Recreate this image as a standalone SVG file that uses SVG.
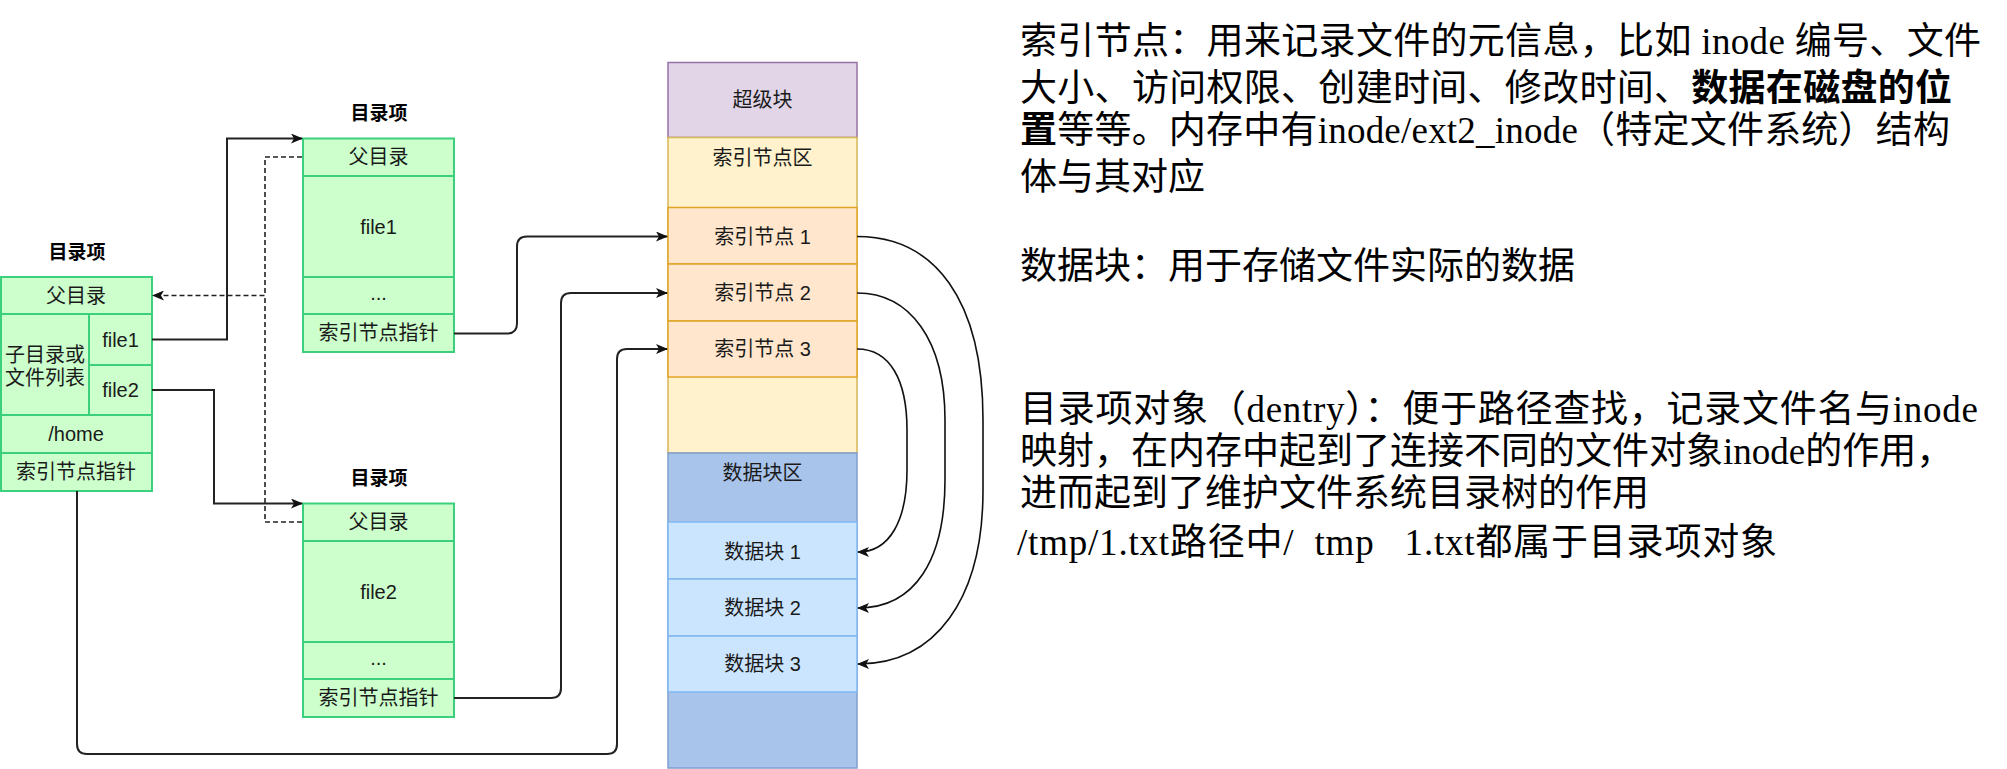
<svg xmlns="http://www.w3.org/2000/svg" width="2007" height="769" viewBox="0 0 2007 769">
<style>
.g{fill:#ccffcc;stroke:#3ad07e;stroke-width:2}
.t{font-family:"Liberation Sans","Noto Sans CJK SC",sans-serif;font-size:20px;fill:#1a1a1a;text-anchor:middle;dominant-baseline:central}
.h{font-family:"Liberation Sans","Noto Sans CJK SC",sans-serif;font-size:19px;font-weight:bold;fill:#000;text-anchor:middle;dominant-baseline:central}
.c{fill:none;stroke:#222;stroke-width:2}
.d{fill:none;stroke:#222;stroke-width:1.6;stroke-dasharray:5 3}
.cv{fill:none;stroke:#111;stroke-width:1.6}
.r{font-family:"Liberation Serif","Noto Sans CJK SC",serif;font-size:37px;fill:#000;white-space:pre}
.b{font-weight:bold}
</style>
<defs>
<marker id="arr" viewBox="0 0 12 10" refX="11" refY="5" markerWidth="12" markerHeight="10" markerUnits="userSpaceOnUse" orient="auto">
<path d="M0,0 L12,5 L0,10 L3,5 z" fill="#111"/>
</marker>
</defs>

<g id="dentry-root">
<text class="h" x="77" y="252">目录项</text>
<rect class="g" x="1" y="277" width="151" height="37"/>
<rect class="g" x="1" y="314" width="88" height="101"/>
<rect class="g" x="89" y="314" width="63" height="51"/>
<rect class="g" x="89" y="365" width="63" height="50"/>
<rect class="g" x="1" y="415" width="151" height="38"/>
<rect class="g" x="1" y="453" width="151" height="38"/>
<text class="t" x="76" y="295.5">父目录</text>
<text class="t" x="45" y="355">子目录或</text>
<text class="t" x="45" y="378">文件列表</text>
<text class="t" x="120.5" y="339.5">file1</text>
<text class="t" x="120.5" y="390">file2</text>
<text class="t" x="76" y="434">/home</text>
<text class="t" x="76" y="472">索引节点指针</text>
</g>

<g id="dentry-file1">
<text class="h" x="379" y="113.5">目录项</text>
<rect class="g" x="303" y="138.5" width="151" height="37.5"/>
<rect class="g" x="303" y="176" width="151" height="101"/>
<rect class="g" x="303" y="277" width="151" height="37"/>
<rect class="g" x="303" y="314" width="151" height="38"/>
<text class="t" x="378.5" y="157">父目录</text>
<text class="t" x="378.5" y="226.5">file1</text>
<text class="t" x="378.5" y="293">...</text>
<text class="t" x="378.5" y="333">索引节点指针</text>
</g>

<g id="dentry-file2">
<text class="h" x="379" y="478.5">目录项</text>
<rect class="g" x="303" y="503.5" width="151" height="37.5"/>
<rect class="g" x="303" y="541" width="151" height="101"/>
<rect class="g" x="303" y="642" width="151" height="37"/>
<rect class="g" x="303" y="679" width="151" height="38"/>
<text class="t" x="378.5" y="522">父目录</text>
<text class="t" x="378.5" y="591.5">file2</text>
<text class="t" x="378.5" y="658">...</text>
<text class="t" x="378.5" y="698">索引节点指针</text>
</g>

<g id="disk">
<g id="superblock">
<rect x="668" y="62.5" width="189" height="75" fill="#e1d5e7" stroke="#9673a6" stroke-width="1.5"/>
<text class="t" x="762.5" y="100">超级块</text>
</g>
<g id="inode-area">
<rect x="668" y="137.5" width="189" height="315.5" fill="#fff2cc" stroke="#d6b656" stroke-width="1.5"/>
<text class="t" x="762.5" y="158">索引节点区</text>
</g>
<g id="inode1">
<rect x="668" y="207.5" width="189" height="56.5" fill="#ffe6cc" stroke="#e0a526" stroke-width="1.5"/>
<text class="t" x="762.5" y="236.5">索引节点 1</text>
</g>
<g id="inode2">
<rect x="668" y="264" width="189" height="57" fill="#ffe6cc" stroke="#e0a526" stroke-width="1.5"/>
<text class="t" x="762.5" y="293">索引节点 2</text>
</g>
<g id="inode3">
<rect x="668" y="321" width="189" height="56" fill="#ffe6cc" stroke="#e0a526" stroke-width="1.5"/>
<text class="t" x="762.5" y="349">索引节点 3</text>
</g>
<g id="data-area">
<rect x="668" y="453" width="189" height="315" fill="#a9c4eb" stroke="#7f9fd0" stroke-width="1.5"/>
<text class="t" x="762.5" y="473">数据块区</text>
</g>
<g id="data1">
<rect x="668" y="522" width="189" height="57" fill="#cce5ff" stroke="#7fb8f0" stroke-width="1.5"/>
<text class="t" x="762.5" y="551.5">数据块 1</text>
</g>
<g id="data2">
<rect x="668" y="579" width="189" height="57" fill="#cce5ff" stroke="#7fb8f0" stroke-width="1.5"/>
<text class="t" x="762.5" y="608">数据块 2</text>
</g>
<g id="data3">
<rect x="668" y="636" width="189" height="56" fill="#cce5ff" stroke="#7fb8f0" stroke-width="1.5"/>
<text class="t" x="762.5" y="664">数据块 3</text>
</g>
</g>

<g id="connectors">
<path class="c" d="M152,339.5 H227 V138.5 H302" marker-end="url(#arr)"/>
<path class="c" d="M152,390 H214 V503.5 H302" marker-end="url(#arr)"/>
<path class="d" d="M302,157 H265 V295.5 H153" marker-end="url(#arr)"/>
<path class="d" d="M302,522 H265 V295.5"/>
<path class="c" d="M454,333.5 H507 Q517,333.5 517,323.5 V246.5 Q517,236.5 527,236.5 H667" marker-end="url(#arr)"/>
<path class="c" d="M454,698 H551 Q561,698 561,688 V303 Q561,293 571,293 H667" marker-end="url(#arr)"/>
<path class="c" d="M77,491 V744 Q77,754 87,754 H607 Q617,754 617,744 V359 Q617,349 627,349 H667" marker-end="url(#arr)"/>
<path class="cv" d="M857,236.5 C935,236.5 983,300 983,420 L983,490 C983,600 935,664 858,664" marker-end="url(#arr)"/>
<path class="cv" d="M857,293 C910,293 945,340 945,420 L945,480 C945,560 915,608 858,608" marker-end="url(#arr)"/>
<path class="cv" d="M857,349 C890,349 907,380 907,430 L907,470 C907,520 890,552 858,552" marker-end="url(#arr)"/>
</g>

<g id="notes">
<text class="r" x="1020" y="54" textLength="961" lengthAdjust="spacing">索引节点：用来记录文件的元信息，比如 inode 编号、文件</text>
<text class="r" x="1020" y="101" textLength="932" lengthAdjust="spacing">大小、访问权限、创建时间、修改时间、<tspan class="b">数据在磁盘的位</tspan></text>
<text class="r" x="1020" y="143" textLength="930" lengthAdjust="spacing"><tspan class="b">置</tspan>等等。内存中有inode/ext2_inode（特定文件系统）结构</text>
<text class="r" x="1020" y="190">体与其对应</text>
<text class="r" x="1020" y="279">数据块：用于存储文件实际的数据</text>
<text class="r" x="1020" y="422" textLength="958" lengthAdjust="spacing">目录项对象（dentry）：便于路径查找，记录文件名与inode</text>
<text class="r" x="1020" y="464">映射，在内存中起到了连接不同的文件对象inode的作用，</text>
<text class="r" x="1020" y="506">进而起到了维护文件系统目录树的作用</text>
<text class="r" x="1017" y="555" textLength="760" lengthAdjust="spacing">/tmp/1.txt路径中/  tmp   1.txt都属于目录项对象</text>
</g>
</svg>
